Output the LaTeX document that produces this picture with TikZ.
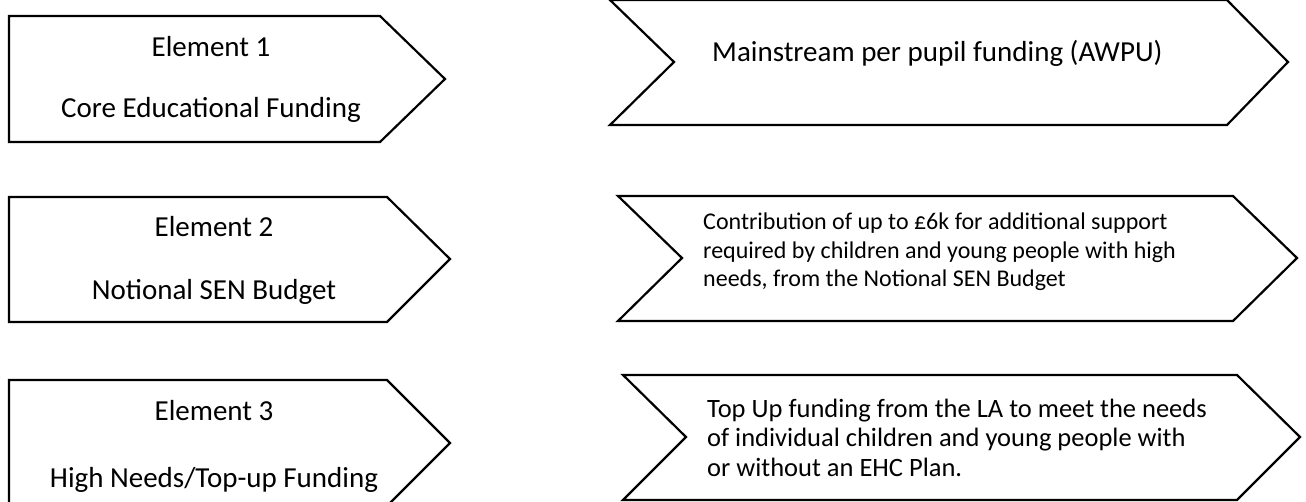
\documentclass[tikz,border=0pt]{standalone}
\usepackage{fontspec}
\setmainfont{Carlito}
\usepackage{tikz}
\usetikzlibrary{positioning}

\begin{document}
\begin{tikzpicture}[
    x=1pt, y=1pt,
    outline/.style={draw=black, line width=2.2pt, line join=miter},
    title/.style={anchor=base, inner sep=0pt, font=\fontsize{29}{35}\selectfont},
    desc/.style={anchor=base west, inner sep=0pt, align=left},
]
    \useasboundingbox (0,0) rectangle (1306,-502);

    % Element boxes (left column)
    \draw[outline] (9,-16) -- (380,-16) -- (445,-79) -- (380,-142) -- (9,-142) -- cycle;
    \draw[outline] (9,-197) -- (387,-197) -- (450,-259) -- (387,-322) -- (9,-322) -- cycle;
    \draw[outline] (9,-380) -- (387,-380) -- (450,-443) -- (387,-506) -- (9,-506) -- cycle;

    % Funding chevrons (right column)
    \draw[outline] (610,0) -- (1227,0) -- (1288,-62) -- (1227,-125) -- (610,-125) -- (674,-62) -- cycle;
    \draw[outline] (618,-196) -- (1233,-196) -- (1297,-258) -- (1233,-321) -- (618,-321) -- (682,-258) -- cycle;
    \draw[outline] (623,-375) -- (1237,-375) -- (1300,-437) -- (1237,-500) -- (623,-500) -- (686,-437) -- cycle;

    % Element 1
    \node[title] (el1) at (211,-57) {Element 1};
    \node[title] (el1sub) at (211,-118) {Core Educational Funding};
    \node[desc, font=\fontsize{29}{35}\selectfont] (fund1) at (712,-62) {Mainstream per pupil funding (AWPU)};

    % Element 2 (multi-line text sits on its last baseline)
    \node[title] (el2) at (214,-237) {Element 2};
    \node[title] (el2sub) at (214,-300) {Notional SEN Budget};
    \node[desc, font=\fontsize{24}{28.5}\selectfont] (fund2) at (703,-287)
        {Contribution of up to £6k for additional support\\
         required by children and young people with high\\
         needs, from the Notional SEN Budget};

    % Element 3
    \node[title] (el3) at (214,-420) {Element 3};
    \node[title] (el3sub) at (214,-487) {High Needs/Top-up Funding};
    \node[desc, font=\fontsize{26.5}{29.5}\selectfont] (fund3) at (707,-476)
        {Top Up funding from the LA to meet the needs\\
         of individual children and young people with\\
         or without an EHC Plan.};
\end{tikzpicture}
\end{document}
